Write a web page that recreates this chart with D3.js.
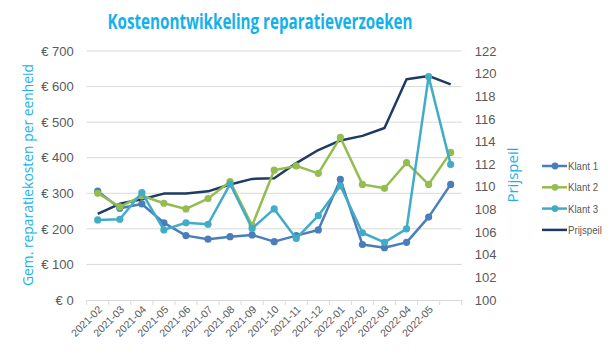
<!DOCTYPE html>
<html><head><meta charset="utf-8">
<script src="https://cdn.jsdelivr.net/npm/d3@7"></script>
<style>body{margin:0;background:#fff}svg{display:block}</style>
</head><body><svg id="c" width="615" height="358"></svg>
<script>
const categories = ["2021-02","2021-03","2021-04","2021-05","2021-06","2021-07","2021-08","2021-09","2021-10","2021-11","2021-12","2022-01","2022-02","2022-03","2022-04","2022-05",""];
const klant1 = [306,258,270,217,181,171,178,183,164,181,197,339,156,147,162,233,325];
const klant2 = [300,262,293,272,256,285,333,209,365,377,356,457,325,314,386,325,415];
const klant3 = [225,227,302,197,217,213,326,201,256,173,237,321,189,162,200,628,381];
const prijspeil = [107.6,108.5,108.9,109.4,109.4,109.6,110.2,110.7,110.75,112.1,113.25,114.1,114.5,115.2,119.5,119.8,119.05];
const leftTicks = [0,100,200,300,400,500,600,700];
const rightTicks = [100,102,104,106,108,110,112,114,116,118,120,122];
const seriesNames = ["Klant 1","Klant 2","Klant 3","Prijspeil"];
const colors = {"Klant 1":"#4a7ebb","Klant 2":"#94bd4f","Klant 3":"#41acc8","Prijspeil":"#1f3a63"};

const svg = d3.select("#c");
const m = {l:86.7, r:461.7, t:51, b:300};
const x = d3.scaleBand().domain(d3.range(categories.length)).range([m.l,m.r]);
const y = d3.scaleLinear().domain([0,700]).range([m.b,m.t]);
const y2 = d3.scaleLinear().domain([100,122]).range([m.b,m.t]);
const cx = i => x(i)+x.bandwidth()/2;
const gray = "#595959";
const font = "'Liberation Sans', Arial, sans-serif";

// title
svg.append("text").attr("x",260).attr("y",29).attr("text-anchor","middle")
  .attr("font-family","'Open Sans', sans-serif").attr("font-weight","bold").attr("font-size",22)
  .attr("fill","#13b1ea").attr("textLength",305).attr("lengthAdjust","spacingAndGlyphs")
  .text("Kostenontwikkeling reparatieverzoeken");

// gridlines
svg.append("g").selectAll("line").data(leftTicks.filter(d=>d>0)).join("line")
  .attr("x1",m.l).attr("x2",m.r).attr("y1",d=>y(d)).attr("y2",d=>y(d))
  .attr("stroke","#d9d9d9").attr("stroke-width",1);

// left axis
const ly = svg.append("g").attr("transform",`translate(${m.l-13},0)`)
  .call(d3.axisLeft(y).tickValues(leftTicks).tickSize(0).tickPadding(0).tickFormat(d=>"€ "+d));
ly.select(".domain").remove();
ly.selectAll("text").attr("font-family",font).attr("font-size",13).attr("fill",gray);

// right axis
const ry = svg.append("g").attr("transform",`translate(${m.r+13},0)`)
  .call(d3.axisRight(y2).tickValues(rightTicks).tickSize(0).tickPadding(0));
ry.select(".domain").remove();
ry.selectAll("text").attr("font-family",font).attr("font-size",13).attr("fill",gray);

// x axis
const xa = svg.append("g").attr("transform",`translate(0,${m.b})`)
  .call(d3.axisBottom(x).tickSize(0).tickFormat(i=>categories[i]));
xa.select(".domain").attr("stroke","#d9d9d9");
xa.selectAll("text").attr("font-family",font).attr("font-size",10.5).attr("fill",gray)
  .attr("text-anchor","end").attr("dy",0).attr("dx",0)
  .attr("transform","translate(3,8) rotate(-45)");
xa.selectAll(".tick line").remove();
const bounds = d3.range(categories.length+1).map(i=> i<categories.length ? x(i) : m.r);
xa.selectAll(".bt").data(bounds).join("line").attr("class","bt")
  .attr("x1",d=>d).attr("x2",d=>d).attr("y1",0).attr("y2",5).attr("stroke","#d9d9d9");

// axis titles
svg.append("text").attr("transform","translate(33,175) rotate(-90)").attr("text-anchor","middle")
  .attr("font-family","'Open Sans', sans-serif").attr("font-size",15).attr("fill","#18b1eb")
  .attr("textLength",222).attr("lengthAdjust","spacingAndGlyphs")
  .text("Gem. reparatiekosten per eenheid");
svg.append("text").attr("transform","translate(518,175) rotate(-90)").attr("text-anchor","middle")
  .attr("font-family","'Open Sans', sans-serif").attr("font-size",15).attr("fill","#18b1eb")
  .text("Prijspeil");

// lines
const line = d3.line().x((d,i)=>cx(i)).y(d=>y(d));
const line2 = d3.line().x((d,i)=>cx(i)).y(d=>y2(d));
svg.append("path").datum(prijspeil).attr("d",line2).attr("fill","none")
  .attr("stroke",colors["Prijspeil"]).attr("stroke-width",2.5).attr("stroke-linejoin","round");
[["Klant 1",klant1],["Klant 2",klant2],["Klant 3",klant3]].forEach(([n,data])=>{
  const g = svg.append("g");
  g.append("path").datum(data).attr("d",line).attr("fill","none")
    .attr("stroke",colors[n]).attr("stroke-width",2.5).attr("stroke-linejoin","round");
  g.selectAll("circle").data(data).join("circle")
    .attr("cx",(d,i)=>cx(i)).attr("cy",d=>y(d)).attr("r",3.6).attr("fill",colors[n]);
});

// legend
const lg = svg.append("g");
seriesNames.forEach((n,i)=>{
  const yy = 166 + i*21.3;
  lg.append("line").attr("x1",542).attr("x2",567).attr("y1",yy).attr("y2",yy)
    .attr("stroke",colors[n]).attr("stroke-width",2.5);
  if(n!=="Prijspeil") lg.append("circle").attr("cx",555).attr("cy",yy).attr("r",3.4).attr("fill",colors[n]);
  lg.append("text").attr("x",568).attr("y",yy+4).attr("font-family",font).attr("font-size",11)
    .attr("fill",gray).attr("transform",`translate(${568*0.12},0) scale(0.88,1)`).text(n);
});
</script></body></html>
